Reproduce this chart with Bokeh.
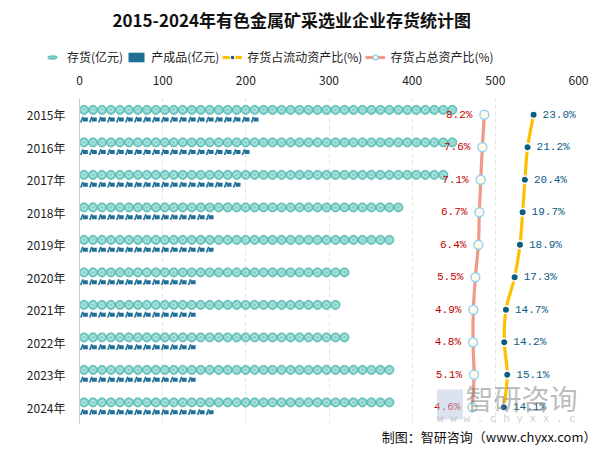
import numpy as np
from bokeh.plotting import figure
from bokeh.layouts import column
from bokeh.models import (Range1d, FactorRange, FixedTicker, Legend, LegendItem,
                          Title, Label, BoxAnnotation, ColumnDataSource)
from bokeh.core.properties import value
from bokeh.embed import file_html
from bokeh.resources import INLINE

# ---------------- data ----------------
years = ["2015年", "2016年", "2017年", "2018年", "2019年",
         "2020年", "2021年", "2022年", "2023年", "2024年"]
inventory = [454, 449, 447, 388, 378, 322, 315, 326, 382, 377]      # 存货(亿元)
finished = [214, 200, 195, 161, 157, 145, 141, 144, 136, 160]       # 产成品(亿元)
pct_current = [23.0, 21.2, 20.4, 19.7, 18.9, 17.3, 14.7, 14.2, 15.1, 14.1]  # 存货占流动资产比(%)
pct_total = [8.2, 7.6, 7.1, 6.7, 6.4, 5.5, 4.9, 4.8, 5.1, 4.6]              # 存货占总资产比(%)
x_ticks = [0, 100, 200, 300, 400, 500, 600]

CJK = "Noto Sans CJK SC"
MONO = "Liberation Mono"
INV_FILL, INV_LINE = "#7fd0c9", "#55b8b0"
FIN_COLOR = "#1f6f97"
CUR_LINE, CUR_PT = "#ffc000", "#0d5b80"
TOT_LINE, TOT_PT_LINE, TOT_PT_FILL = "#ef9a86", "#8fd4f2", "#fffbe8"

W, H = 607, 449
HEAD_H = 68
BL, BR = 79, 29

n = len(years)
ycenter = np.array([n - i - 0.5 for i in range(n)])  # synthetic coords on the factor range

# ---------------- header: title + legend (full-width frame) ----------------
head = figure(width=W, height=HEAD_H, output_backend="svg", toolbar_location=None,
              x_range=Range1d(0, W), y_range=Range1d(0, HEAD_H),
              x_axis_location=None, y_axis_location=None,
              min_border_left=0, min_border_right=0, min_border_top=0, min_border_bottom=0)
head.outline_line_color = None
head.xgrid.grid_line_color = None
head.ygrid.grid_line_color = None

head.add_layout(Label(x=112, y=HEAD_H - 19, text="2015-2024年有色金属矿采选业企业存货统计图",
                      text_font=CJK, text_font_size="17px", text_font_style="bold",
                      text_color="#111111", text_baseline="middle"))

off = dict(x=[-5000], y=[-5000])
h_inv = head.ellipse(x="x", y="y", source=ColumnDataSource(off), width=20, height=7,
                     width_units="screen", height_units="screen",
                     fill_color=INV_FILL, line_color=INV_LINE)
h_fin = head.rect(x="x", y="y", source=ColumnDataSource(off), width=14, height=4,
                  width_units="screen", height_units="screen",
                  fill_color=FIN_COLOR, line_color=None)
h_cur_l = head.line(x=[-5000, -4999], y=[-5000, -5000], line_color=CUR_LINE, line_width=3.2)
h_cur_p = head.scatter(x="x", y="y", source=ColumnDataSource(off), marker="circle", size=7,
                       fill_color=CUR_PT, line_color="white", line_width=1.2)
h_tot_l = head.line(x=[-5000, -4999], y=[-5000, -5000], line_color=TOT_LINE, line_width=3.2)
h_tot_p = head.scatter(x="x", y="y", source=ColumnDataSource(off), marker="circle", size=8,
                       fill_color=TOT_PT_FILL, line_color=TOT_PT_LINE, line_width=1.4)

legend = Legend(items=[
    LegendItem(label="存货(亿元)", renderers=[h_inv]),
    LegendItem(label="产成品(亿元)", renderers=[h_fin]),
    LegendItem(label="存货占流动资产比(%)", renderers=[h_cur_l, h_cur_p]),
    LegendItem(label="存货占总资产比(%)", renderers=[h_tot_l, h_tot_p]),
], orientation="horizontal", location=(42, 3), border_line_color=None,
    background_fill_alpha=0, label_text_font=CJK, label_text_font_size="12px",
    label_text_color="#222222", glyph_width=20, glyph_height=12, label_standoff=5,
    spacing=3, padding=2, margin=0)
head.add_layout(legend)

# ---------------- main chart ----------------
p = figure(width=W, height=H - HEAD_H, output_backend="svg", toolbar_location=None,
           x_range=Range1d(0, 600), y_range=FactorRange(factors=years[::-1], range_padding=0),
           x_axis_location="above", min_border_left=BL, min_border_right=BR,
           min_border_bottom=26, min_border_top=30)
p.extra_x_ranges = {"pct": Range1d(-113.5, 36.5)}
p.outline_line_color = None

p.xaxis.ticker = FixedTicker(ticks=x_ticks)
p.xaxis.axis_line_color = None
p.xaxis.major_tick_line_color = None
p.xaxis.minor_tick_line_color = None
p.xaxis.major_label_text_font = CJK
p.xaxis.major_label_text_font_size = "12px"
p.xaxis.major_label_text_color = "#222222"
p.xaxis.major_label_standoff = 8
p.yaxis.axis_line_color = "#cccccc"
p.yaxis.major_tick_line_color = None
p.yaxis.minor_tick_line_color = None
p.yaxis.major_label_text_font = CJK
p.yaxis.major_label_text_font_size = "12px"
p.yaxis.major_label_text_color = "#222222"
p.yaxis.major_label_standoff = 8
p.xgrid.grid_line_color = "#e4e4e4"
p.xgrid.grid_line_dash = "4 3"
p.ygrid.grid_line_color = None

# pictorial bars
step = 10.8  # spacing of symbols in data units
inv_x, inv_y, fin_x, fin_y = [], [], [], []
for i in range(n):
    k = int(round(inventory[i] / step))
    inv_x += [step * (j + 0.5) for j in range(k)]
    inv_y += [ycenter[i] + 0.15] * k
    k2 = int(round(finished[i] / step))
    fin_x += [step * (j + 0.5) for j in range(k2)]
    fin_y += [ycenter[i] - 0.15] * k2

inv_src = ColumnDataSource(dict(x=inv_x, y=inv_y))
fin_src = ColumnDataSource(dict(x=np.array(fin_x), y=fin_y,
                                xr=np.array(fin_x) + 1.6, xf=np.array(fin_x) - 2.6))

p.scatter("x", "y", source=inv_src, marker="circle", size=9,
          fill_color=INV_FILL, line_color=INV_LINE, line_width=1)
p.scatter("x", "y", source=inv_src, marker="circle", size=4,
          fill_color=None, line_color="#c4ece8", line_width=1)
p.rect("xr", "y", source=fin_src, width=5, height=4, width_units="screen",
       height_units="screen", fill_color=FIN_COLOR, line_color=None)
p.scatter("xf", "y", source=fin_src, marker="dash", size=6, angle=1.2,
          line_color=FIN_COLOR, line_width=1.6)

# smooth lines (Catmull-Rom -> bezier)
def bezier_segments(xs, ys):
    xs = np.asarray(xs, float); ys = np.asarray(ys, float)
    xp = np.concatenate([[xs[0]], xs, [xs[-1]]])
    yp = np.concatenate([[ys[0]], ys, [ys[-1]]])
    d = {k: [] for k in ["x0", "y0", "x1", "y1", "cx0", "cy0", "cx1", "cy1"]}
    for i in range(len(xs) - 1):
        a, b, c, e = i, i + 1, i + 2, i + 3
        d["x0"].append(xp[b]); d["y0"].append(yp[b])
        d["x1"].append(xp[c]); d["y1"].append(yp[c])
        d["cx0"].append(xp[b] + (xp[c] - xp[a]) / 6); d["cy0"].append(yp[b] + (yp[c] - yp[a]) / 6)
        d["cx1"].append(xp[c] - (xp[e] - xp[b]) / 6); d["cy1"].append(yp[c] - (yp[e] - yp[b]) / 6)
    return ColumnDataSource(d)

p.bezier(source=bezier_segments(pct_total, ycenter), x0="x0", y0="y0", x1="x1", y1="y1",
         cx0="cx0", cy0="cy0", cx1="cx1", cy1="cy1", x_range_name="pct",
         line_color=TOT_LINE, line_width=3.2)
p.bezier(source=bezier_segments(pct_current, ycenter), x0="x0", y0="y0", x1="x1", y1="y1",
         cx0="cx0", cy0="cy0", cx1="cx1", cy1="cy1", x_range_name="pct",
         line_color=CUR_LINE, line_width=3.2)

pt_src = ColumnDataSource(dict(y=ycenter, tot=pct_total, cur=pct_current,
                               tot_lbl=[f"{v:.1f}%" for v in pct_total],
                               cur_lbl=[f"{v:.1f}%" for v in pct_current]))
p.scatter("tot", "y", source=pt_src, x_range_name="pct", marker="circle", size=9,
          fill_color=TOT_PT_FILL, line_color=TOT_PT_LINE, line_width=1.4)
p.scatter("cur", "y", source=pt_src, x_range_name="pct", marker="circle", size=7.5,
          fill_color=CUR_PT, line_color="white", line_width=1.5)

p.text("tot", "y", text="tot_lbl", source=pt_src, x_range_name="pct", x_offset=-12,
       text_align="right", text_baseline="middle", text_color="#c00000",
       text_font=value(MONO), text_font_size="11px")
p.text("cur", "y", text="cur_lbl", source=pt_src, x_range_name="pct", x_offset=9,
       text_align="left", text_baseline="middle", text_color=CUR_PT,
       text_font=value(MONO), text_font_size="11px")

# watermark
p.add_layout(BoxAnnotation(left=430, right=461, bottom=0.12, top=1.05,
                           fill_color="#b8c6dc", fill_alpha=0.5, line_color=None))
p.add_layout(Label(x=464, y=0.16, text="智研咨询", text_font=CJK, text_font_size="28px",
                   text_color="#7a7a7a", text_alpha=0.5))
p.add_layout(Label(x=430, y=-0.05, text="w w w . c h y x x . c o m", text_font=MONO,
                   text_font_size="11px", text_color="#999999", text_alpha=0.5))

footer = Title(text="制图：智研咨询（www.chyxx.com）", align="right", offset=-18,
               text_font=CJK, text_font_size="13px", text_font_style="normal",
               text_color="#111111", standoff=2)
p.add_layout(footer, "below")

layout = column(column(head), p, spacing=0)
open("out.html", "w").write(file_html(layout, INLINE))
